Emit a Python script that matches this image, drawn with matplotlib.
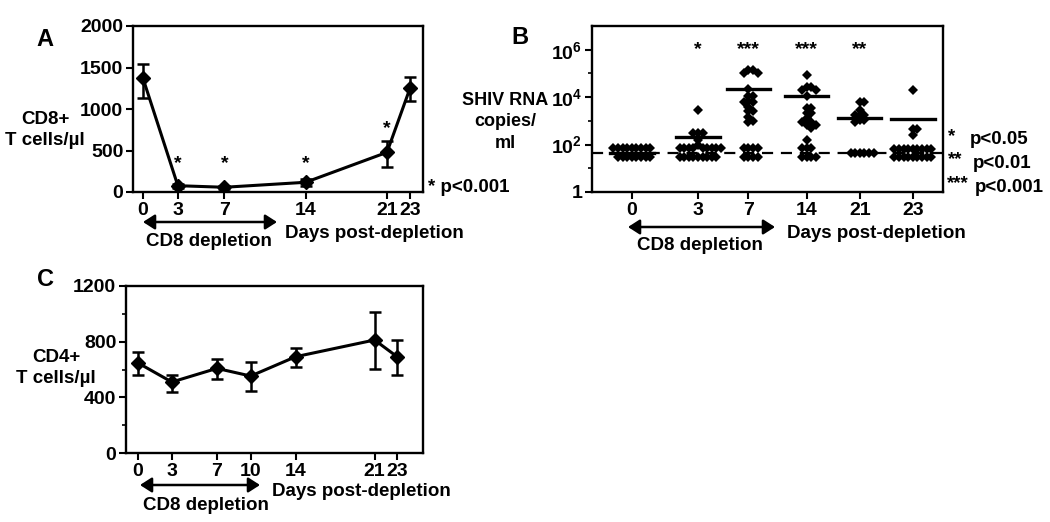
import numpy as np
import matplotlib
matplotlib.use("Agg")
import matplotlib.pyplot as plt

plt.rcParams['font.family'] = ['Liberation Sans', 'DejaVu Sans']
plt.rcParams['font.weight'] = 'bold'
plt.rcParams['mathtext.fontset'] = 'custom'
plt.rcParams['mathtext.rm'] = 'Liberation Sans:bold'
plt.rcParams['mathtext.bf'] = 'Liberation Sans:bold'
plt.rcParams['mathtext.default'] = 'rm'

# ---------- panel A : CD8+ T cells ----------
a_days = [0, 3, 7, 14, 21, 23]
a_mean = [1370, 76, 57, 117, 478, 1257]
a_upper = [1542, 100, 77, 153, 618, 1389]
a_lower = [1136, 52, 37, 76, 297, 1096]
a_star_days = [3, 7, 14, 21]
a_star_y = [340, 340, 340, 760]

# ---------- panel B : SHIV RNA ----------
b_labels = ['0', '3', '7', '14', '21', '23']
b_pos = [0.75, 2.0, 2.95, 4.05, 5.05, 6.05]
b_values = [
    [70] * 9 + [31] * 8,
    [2900, 300, 300, 300, 157, 97] + [70] * 9 + [31] * 9,
    [1.4e5, 1.4e5, 1.0e5, 1.0e5, 2.2e4, 1.1e4, 1.1e4, 7000, 6000, 6000,
     4000, 2500, 2500, 1500, 1000, 900] + [70] * 4 + [31] * 4,
    [8.7e4, 2.8e4, 2.8e4, 2e4, 2e4, 1.07e4, 3500, 3500, 2200, 2200, 1300,
     930, 930, 680, 680, 510, 157] + [70] * 3 + [31] * 4,
    [6500, 6500, 2900, 1800, 1800, 1800, 1100, 1100, 930] + [45] * 6,
    [2e4, 445, 445, 257] + [62] * 9 + [30] * 9,
]
b_means = [43, 217, 2.2e4, 1.07e4, 1380, 1200]
b_stars = ['', '*', '***', '***', '**', '']
detect_limit = 43

# ---------- panel C : CD4+ T cells ----------
c_days = [0, 3, 7, 10, 14, 21, 23]
c_mean = [647, 510, 608, 553, 692, 812, 692]
c_upper = [726, 562, 673, 652, 757, 1011, 812]
c_lower = [560, 440, 532, 448, 616, 606, 560]

W, H = 1050, 522
fig = plt.figure(figsize=(W / 100, H / 100), dpi=100)
TXT = 13.5
TICK = 14


def box(left, top, right, bottom):
    return [left / W, 1 - bottom / H, (right - left) / W, (bottom - top) / H]


def ftext(x, y, s, **kw):
    kw.setdefault('ha', 'center')
    kw.setdefault('va', 'center')
    kw.setdefault('fontsize', TXT)
    fig.text(x / W, 1 - y / H, s, fontweight='bold', **kw)


def farrow(x0, x1, y):
    fig.add_artist(matplotlib.patches.FancyArrowPatch(
        (x0 / W, 1 - y / H), (x1 / W, 1 - y / H), transform=fig.transFigure,
        arrowstyle='<|-|>,head_length=7,head_width=4.5', lw=1.8, color='black',
        shrinkA=0, shrinkB=0))


def style(ax):
    for sp in ax.spines.values():
        sp.set_linewidth(1.7)
    ax.tick_params(which='major', direction='out', length=5, width=1.5,
                   labelsize=TICK, pad=2)
    ax.tick_params(which='minor', direction='out', length=3, width=1.2)
    for lab in ax.get_xticklabels() + ax.get_yticklabels():
        lab.set_fontweight('bold')


def timecourse(ax, days, mean, upper, lower):
    mean = np.array(mean)
    yerr = [mean - np.array(lower), np.array(upper) - mean]
    ax.errorbar(days, mean, yerr=yerr, fmt='-D', color='black', lw=2.2,
                ms=7.5, capsize=4.5, capthick=1.8, elinewidth=1.8)


# panel A
axA = fig.add_axes(box(133, 26, 423, 192))
timecourse(axA, a_days, a_mean, a_upper, a_lower)
for d, y in zip(a_star_days, a_star_y):
    axA.text(d, y, '*', ha='center', va='center', fontsize=14)
axA.set_xlim(-0.86, 24.1)
axA.set_ylim(0, 2000)
axA.set_xticks(a_days)
axA.set_yticks([0, 500, 1000, 1500, 2000])
style(axA)
ftext(45, 39, 'A', fontsize=17)
ftext(45, 130, 'CD8+\nT cells/\u00b5l', linespacing=1.35)
ftext(428, 188, '* p<0.001', ha='left')
farrow(143, 277, 222)
ftext(209, 241, 'CD8 depletion')
ftext(374, 233, 'Days post-depletion')

# panel B


def swarm(vals, center, d=4.6, xpx=53.0, ypx=23.67):
    logs = np.log10(vals)
    xs = np.zeros(len(vals))
    placed = []
    cands = [0.0]
    for j in range(1, 30):
        cands += [j * d, -j * d]
    for i in np.argsort(-logs, kind='stable'):
        yp = logs[i] * ypx
        for off in cands:
            if all((off - px) ** 2 + (yp - py) ** 2 >= d * d * 0.98 for px, py in placed):
                break
        placed.append((off, yp))
        xs[i] = center + off / xpx
    return xs


axB = fig.add_axes(box(592, 26, 943, 192))
axB.set_yscale('log')
axB.axhline(detect_limit, color='black', lw=1.6, ls=(0, (5, 3.5)), zorder=1)
for pos, vals, m, st in zip(b_pos, b_values, b_means, b_stars):
    xs = swarm(vals, pos)
    axB.plot(xs, vals, 'D', color='black', ms=4.8, mew=0, zorder=3)
    axB.plot([pos - 0.41, pos + 0.41], [m, m], color='black', lw=2.4, zorder=2)
    if st:
        axB.text(pos, 1e6, st, ha='center', va='center', fontsize=14)
axB.set_xlim(0, 6.62)
axB.set_ylim(1, 1e7)
axB.set_xticks(b_pos)
axB.set_xticklabels(b_labels)
axB.set_yticks([1, 1e2, 1e4, 1e6])
axB.set_yticklabels(['1', '$10^{2}$', '$10^{4}$', '$10^{6}$'])
axB.set_yticks([10, 1e3, 1e5], minor=True)
axB.set_yticklabels([], minor=True)
style(axB)
ftext(520, 38, 'B', fontsize=17)
ftext(505, 122, 'SHIV RNA\ncopies/\nml', linespacing=1.32, fontsize=13)
ftext(948, 137, '*', ha='left')
ftext(970, 140, 'p<0.05', ha='left')
ftext(948, 160, '**', ha='left')
ftext(973, 163, 'p<0.01', ha='left')
ftext(947, 184, '***', ha='left')
ftext(975, 187, 'p<0.001', ha='left')
farrow(628, 775, 227)
ftext(700, 245, 'CD8 depletion')
ftext(876, 233, 'Days post-depletion')

# panel C
axC = fig.add_axes(box(126, 286, 423, 453))
timecourse(axC, c_days, c_mean, c_upper, c_lower)
axC.set_xlim(-1.07, 25.3)
axC.set_ylim(0, 1200)
axC.set_xticks(c_days)
axC.set_yticks([0, 400, 800, 1200])
axC.set_yticks([200, 600, 1000], minor=True)
style(axC)
ftext(45, 279, 'C', fontsize=17)
ftext(56, 368, 'CD4+\nT cells/\u00b5l', linespacing=1.35)
farrow(140, 260, 485)
ftext(206, 506, 'CD8 depletion')
ftext(361, 492, 'Days post-depletion')

fig.savefig('out.png', dpi=100)
